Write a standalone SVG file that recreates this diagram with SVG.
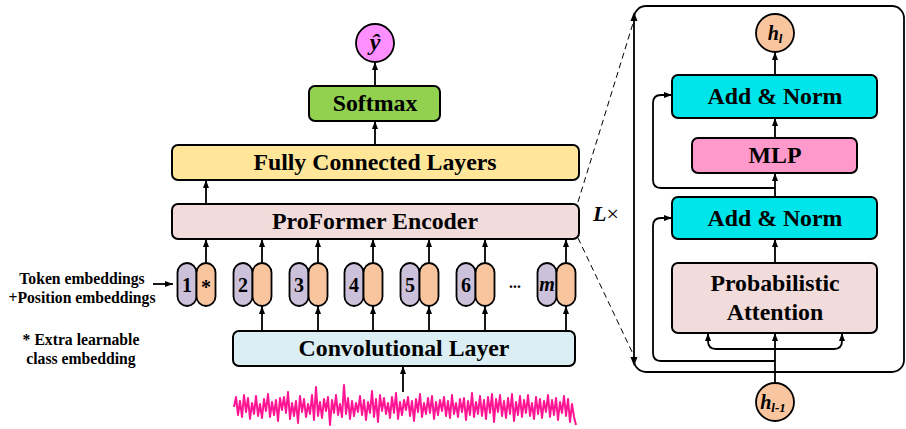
<svg xmlns="http://www.w3.org/2000/svg" width="906" height="429" viewBox="0 0 906 429">
<style>
text{font-family:"Liberation Serif","Times New Roman",serif;font-weight:bold;fill:#000;text-anchor:middle}
.box{stroke:#000;stroke-width:2}
.t23{font-size:23.8px}
.t16{font-size:15.7px}
.t20{font-size:20px}
.ln{fill:none;stroke:#000;stroke-width:1.8}
.dash{fill:none;stroke:#000;stroke-width:1;stroke-dasharray:6,4}
.pu{fill:#ccc1da;stroke:#000;stroke-width:1.8}
.or{fill:#f9c59e;stroke:#000;stroke-width:1.8}
.it{font-style:italic}
</style>
<defs>
<marker id="ah" viewBox="0 0 8 6" refX="8" refY="3" markerWidth="8" markerHeight="6" markerUnits="userSpaceOnUse" orient="auto">
<path d="M0,0 L8,3 L0,6 z" fill="#000"/>
</marker>
</defs>

<g id="panel">
<rect x="634" y="6" width="270" height="366" rx="12" fill="none" stroke="#000" stroke-width="1.8"/>
<path d="M634,12 L630.5,21 L637.5,21 z" fill="#000"/>
<path d="M634,366 L630.5,357 L637.5,357 z" fill="#000"/>
<text x="593" y="221" style="font-size:22px;text-anchor:start"><tspan class="it">L</tspan><tspan font-weight="normal">×</tspan></text>
</g>

<g id="yhat">
<circle cx="375" cy="43" r="19" fill="#fe8ffe" stroke="#000" stroke-width="1.8"/>
<text x="375" y="50" class="it" style="font-size:24px">ŷ</text>
</g>
<g id="softmax">
<rect x="309" y="86" width="131" height="35" rx="6" fill="#92d050" class="box"/>
<text x="375" y="111" class="t23">Softmax</text>
</g>
<g id="fc">
<rect x="172" y="145" width="407" height="35" rx="6" fill="#ffe699" class="box"/>
<text x="375" y="170" class="t23">Fully Connected Layers</text>
</g>
<g id="encoder">
<rect x="172" y="204" width="407" height="35" rx="6" fill="#f2dcdb" class="box"/>
<text x="375" y="229" class="t23">ProFormer Encoder</text>
</g>
<g id="conv">
<rect x="233" y="331" width="342" height="35" rx="6" fill="#daeef3" class="box"/>
<text x="404" y="356" class="t23">Convolutional Layer</text>
</g>

<g id="legend">
<text x="82" y="284" class="t16">Token embeddings</text>
<text x="82" y="303" class="t16">+Position embeddings</text>
<text x="81" y="345" class="t16">* Extra learnable</text>
<text x="81" y="364" class="t16">class embedding</text>
</g>

<g id="tok1"><rect x="177.5" y="263" width="19" height="43" rx="9.5" class="pu"/><rect x="196.5" y="263" width="19" height="43" rx="9.5" class="or"/><text x="187" y="292" class="t20">1</text><text x="206" y="294" class="t20" font-weight="normal">*</text></g>
<g id="tok2"><rect x="233.5" y="263" width="19" height="43" rx="9.5" class="pu"/><rect x="252.5" y="263" width="19" height="43" rx="9.5" class="or"/><text x="243" y="292" class="t20">2</text></g>
<g id="tok3"><rect x="289.5" y="263" width="19" height="43" rx="9.5" class="pu"/><rect x="308.5" y="263" width="19" height="43" rx="9.5" class="or"/><text x="299" y="292" class="t20">3</text></g>
<g id="tok4"><rect x="344.5" y="263" width="19" height="43" rx="9.5" class="pu"/><rect x="363.5" y="263" width="19" height="43" rx="9.5" class="or"/><text x="354" y="292" class="t20">4</text></g>
<g id="tok5"><rect x="400.5" y="263" width="19" height="43" rx="9.5" class="pu"/><rect x="419.5" y="263" width="19" height="43" rx="9.5" class="or"/><text x="410" y="292" class="t20">5</text></g>
<g id="tok6"><rect x="456.5" y="263" width="19" height="43" rx="9.5" class="pu"/><rect x="475.5" y="263" width="19" height="43" rx="9.5" class="or"/><text x="466" y="292" class="t20">6</text></g>
<g id="dots"><text x="515" y="288" class="t16">...</text></g>
<g id="tokm"><rect x="537.5" y="263" width="19" height="43" rx="9.5" class="pu"/><rect x="556.5" y="263" width="19" height="43" rx="9.5" class="or"/><text x="547" y="291" class="t20 it">m</text></g>

<g id="signal">
<polyline fill="none" stroke="#ff1493" stroke-width="2" stroke-linejoin="round" points="234,407 236,397 238,415 240,401 242,417 244,395 246,412 248,398 250,419 252,403 254,414 256,396 258,416 260,404 262,418 264,399 266,411 268,394 270,417 272,402 274,415 276,400 278,421 280,398 282,410 284,397 286,413 288,392 290,419 292,403 294,416 296,401 298,423 300,396 302,412 304,399 306,417 308,404 310,414 312,395 314,420 316,387 318,416 320,402 322,418 324,399 326,411 328,397 330,425 332,400 334,413 336,395 338,415 340,404 342,417 344,385 346,414 348,398 350,419 352,401 354,416 356,403 358,412 360,396 362,415 364,400 366,420 368,402 370,413 372,391 374,417 376,399 378,422 380,395 382,411 384,398 386,414 388,403 390,418 392,397 394,413 396,393 398,419 400,402 402,415 404,400 406,410 408,397 410,416 412,401 414,421 416,399 418,412 420,394 422,417 424,403 426,414 428,398 430,413 432,396 434,419 436,402 438,415 440,400 442,411 444,397 446,416 448,401 450,418 452,395 454,414 456,403 458,417 460,399 462,412 464,398 466,420 468,401 470,415 472,393 474,417 476,402 478,414 480,396 482,416 484,400 486,419 488,397 490,413 492,394 494,422 496,399 498,412 500,395 502,416 504,401 506,418 508,398 510,414 512,394 514,421 516,402 518,415 520,396 522,417 524,400 526,413 528,395 530,416 532,403 534,419 536,397 538,414 540,399 542,418 544,401 546,412 548,395 550,417 552,400 554,415 556,398 558,420 560,402 562,413 564,396 566,416 568,399 570,422 572,404 574,417 576,425"/>
</g>

<g id="hl">
<circle cx="775" cy="33" r="19" fill="#f9c59e" stroke="#000" stroke-width="1.8"/>
<text x="775" y="40" class="it" style="font-size:20px">h<tspan font-size="13" dy="3">l</tspan></text>
</g>
<g id="addnorm2">
<rect x="672" y="75" width="205" height="43" rx="6" fill="#00e5ea" class="box"/>
<text x="775" y="104" class="t23">Add &amp; Norm</text>
</g>
<g id="mlp">
<rect x="692" y="138" width="165" height="35" rx="6" fill="#ff99cc" class="box"/>
<text x="775" y="163" class="t23">MLP</text>
</g>
<g id="addnorm1">
<rect x="672" y="197" width="205" height="42" rx="6" fill="#00e5ea" class="box"/>
<text x="775" y="226" class="t23">Add &amp; Norm</text>
</g>
<g id="probatt">
<rect x="672" y="263" width="205" height="70" rx="6" fill="#f2dcdb" class="box"/>
<text x="775" y="291" class="t23">Probabilistic</text>
<text x="775" y="320" class="t23">Attention</text>
</g>
<g id="hl1">
<circle cx="775" cy="402" r="19" fill="#f9c59e" stroke="#000" stroke-width="1.8"/>
<text x="773" y="409" class="it" style="font-size:20px">h<tspan font-size="13" dy="3">l-1</tspan></text>
</g>

<g id="connectors">
<line x1="375" y1="86" x2="375" y2="62" class="ln" marker-end="url(#ah)"/>
<line x1="375" y1="145" x2="375" y2="121" class="ln" marker-end="url(#ah)"/>
<line x1="206" y1="204" x2="206" y2="180" class="ln" marker-end="url(#ah)"/>
<line x1="206" y1="263" x2="206" y2="239" class="ln" marker-end="url(#ah)"/>
<line x1="262" y1="263" x2="262" y2="239" class="ln" marker-end="url(#ah)"/>
<line x1="318" y1="263" x2="318" y2="239" class="ln" marker-end="url(#ah)"/>
<line x1="373" y1="263" x2="373" y2="239" class="ln" marker-end="url(#ah)"/>
<line x1="429" y1="263" x2="429" y2="239" class="ln" marker-end="url(#ah)"/>
<line x1="485" y1="263" x2="485" y2="239" class="ln" marker-end="url(#ah)"/>
<line x1="566" y1="263" x2="566" y2="239" class="ln" marker-end="url(#ah)"/>
<line x1="262" y1="331" x2="262" y2="306" class="ln" marker-end="url(#ah)"/>
<line x1="318" y1="331" x2="318" y2="306" class="ln" marker-end="url(#ah)"/>
<line x1="373" y1="331" x2="373" y2="306" class="ln" marker-end="url(#ah)"/>
<line x1="429" y1="331" x2="429" y2="306" class="ln" marker-end="url(#ah)"/>
<line x1="485" y1="331" x2="485" y2="306" class="ln" marker-end="url(#ah)"/>
<line x1="566" y1="331" x2="566" y2="306" class="ln" marker-end="url(#ah)"/>
<line x1="403" y1="392" x2="403" y2="366" class="ln" marker-end="url(#ah)"/>
<line x1="153" y1="284" x2="173" y2="284" class="ln" marker-end="url(#ah)"/>
<line x1="578" y1="202" x2="634" y2="20" class="dash"/>
<line x1="578" y1="238" x2="634" y2="356" class="dash"/>
<line x1="775" y1="75" x2="775" y2="52" class="ln" marker-end="url(#ah)"/>
<line x1="775" y1="138" x2="775" y2="118" class="ln" marker-end="url(#ah)"/>
<line x1="775" y1="197" x2="775" y2="173" class="ln" marker-end="url(#ah)"/>
<path d="M775,188 H661 Q653,188 653,180 V103 Q653,95 661,95 H672" class="ln" marker-end="url(#ah)"/>
<line x1="775" y1="263" x2="775" y2="239" class="ln" marker-end="url(#ah)"/>
<line x1="775" y1="383" x2="775" y2="333" class="ln" marker-end="url(#ah)"/>
<path d="M775,349 H716 Q708,349 708,341 V333" class="ln" marker-end="url(#ah)"/>
<path d="M775,349 H834 Q842,349 842,341 V333" class="ln" marker-end="url(#ah)"/>
<path d="M775,361 H661 Q653,361 653,353 V226 Q653,218 661,218 H672" class="ln" marker-end="url(#ah)"/>
</g>
</svg>
